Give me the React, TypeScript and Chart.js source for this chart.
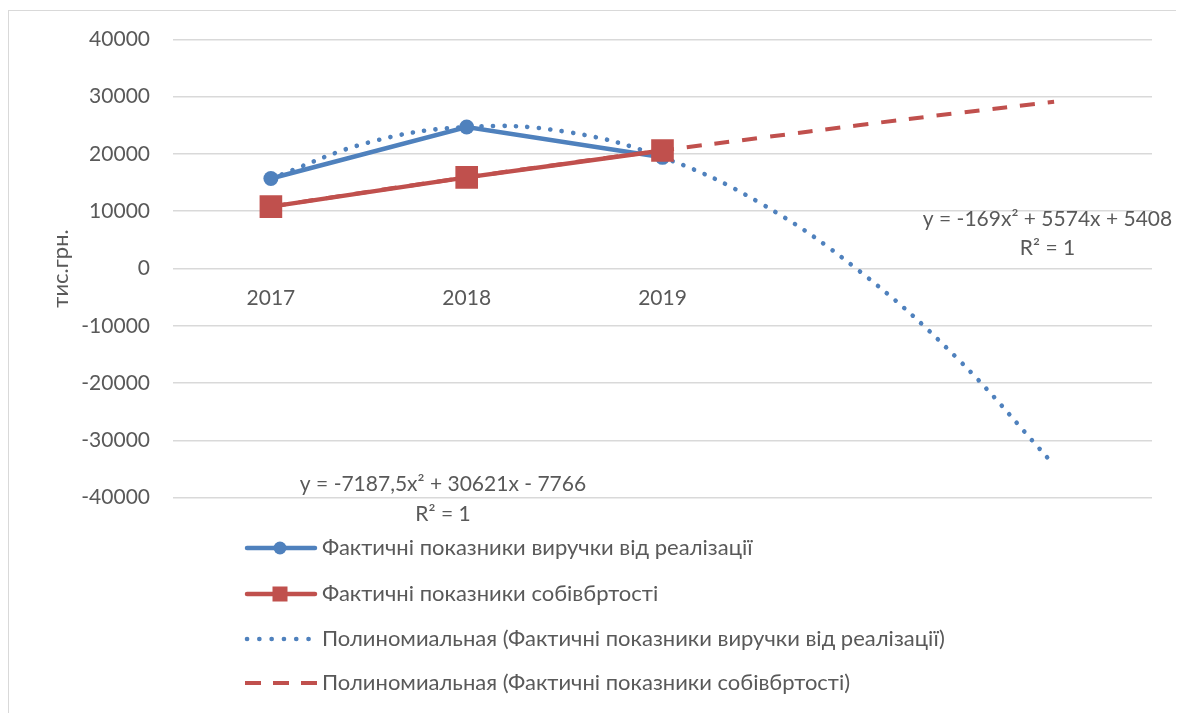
import React, { useEffect, useRef } from "react";
import { Chart, registerables } from "chart.js";

Chart.register(...registerables);

// ---- data ----
const categories = ["2017", "2018", "2019"];
const categoryX = [1, 2, 3];
const revenue = [15700, 24700, 19400];
const cost = [10800, 15900, 20600];
// polynomial trendlines at half-period steps (2 periods forecast)
const trendX = [1, 1.5, 2, 2.5, 3, 3.5, 4, 4.5, 5];
const revenueTrend = [15700, 22000, 24700, 23900, 19400, 11400, -300, -15500, -34300];
const costTrend = [10800, 13400, 15900, 18300, 20600, 22800, 25000, 27100, 29100];
const yMin = -40000;
const yMax = 40000;
const yStep = 10000;
const seriesNames = [
  "Фактичні показники виручки від реалізації",
  "Фактичні показники собівбртості",
  "Полиномиальная (Фактичні показники виручки від реалізації)",
  "Полиномиальная (Фактичні показники собівбртості)",
];
const revenueTrendLabel = ["y = -7187,5x² + 30621x - 7766", "R² = 1"];
const costTrendLabel = ["y = -169x² + 5574x + 5408", "R² = 1"];
const yTitle = "тис.грн.";

// ---- styles ----
const FONT = "Lato, 'Open Sans', sans-serif";
const TEXT = "#595959";
const GRID = "#d9d9d9";
const BLUE = "#4f81bd";
const RED = "#c0504d";
const FS = 21;
const LEG_FS = 22;

const overlay = {
  id: "overlay",
  afterDraw(chart: any) {
    const { ctx } = chart;
    const xs = chart.scales.x;
    const ys = chart.scales.y;
    ctx.save();
    ctx.font = `${FS}px ${FONT}`;
    ctx.fillStyle = TEXT;
    ctx.textAlign = "center";
    ctx.textBaseline = "middle";
    // category labels under the zero line
    const yl = ys.getPixelForValue(0) + 30;
    categories.forEach((c, i) => ctx.fillText(c, xs.getPixelForValue(categoryX[i]), yl));
    // trendline equations
    revenueTrendLabel.forEach((t, i) => ctx.fillText(t, 434, 473.5 + i * 29.5));
    costTrendLabel.forEach((t, i) => ctx.fillText(t, 1038.5, 208.5 + i * 29));

    // legend
    const rows = [537, 583, 628, 672];
    const x0 = 236;
    const x1 = 308;
    const mx = 271;
    ctx.textAlign = "left";
    rows.forEach((ry, i) => {
      ctx.save();
      ctx.beginPath();
      if (i === 0 || i === 1) {
        ctx.strokeStyle = i === 0 ? BLUE : RED;
        ctx.lineWidth = 4.5;
        ctx.lineCap = "round";
        ctx.moveTo(x0 + 2, ry);
        ctx.lineTo(x1 - 2, ry);
        ctx.stroke();
        ctx.fillStyle = i === 0 ? BLUE : RED;
        if (i === 0) {
          ctx.beginPath();
          ctx.arc(mx, ry, 6.5, 0, Math.PI * 2);
          ctx.fill();
        } else {
          ctx.fillRect(mx - 7.5, ry - 7.5, 15, 15);
        }
      } else if (i === 2) {
        ctx.strokeStyle = BLUE;
        ctx.lineWidth = 4.6;
        ctx.lineCap = "round";
        ctx.setLineDash([0.1, 12.2]);
        ctx.moveTo(238, ry);
        ctx.lineTo(301, ry);
        ctx.stroke();
      } else {
        ctx.strokeStyle = RED;
        ctx.lineWidth = 4;
        ctx.lineCap = "butt";
        ctx.setLineDash([16, 12]);
        ctx.moveTo(x0, ry);
        ctx.lineTo(x1, ry);
        ctx.stroke();
      }
      ctx.restore();
      ctx.fillStyle = TEXT;
      ctx.font = `${LEG_FS}px ${FONT}`;
      ctx.fillText(seriesNames[i], 313, ry);
    });
    ctx.restore();
  },
};

export default function App() {
  const ref = useRef<HTMLCanvasElement | null>(null);
  useEffect(() => {
    if (!ref.current) return;
    const pts = (xs: number[], vs: number[]) => vs.map((v, i) => ({ x: xs[i], y: v }));
    const chart = new Chart(ref.current, {
      type: "line",
      data: {
        datasets: [
          {
            label: seriesNames[0],
            data: pts(categoryX, revenue),
            borderColor: BLUE,
            backgroundColor: BLUE,
            borderWidth: 4.5,
            pointStyle: "circle",
            pointRadius: 7.5,
            pointBorderWidth: 0,
            pointBackgroundColor: BLUE,
            tension: 0,
            order: 1,
          },
          {
            label: seriesNames[1],
            data: pts(categoryX, cost),
            borderColor: RED,
            backgroundColor: RED,
            borderWidth: 4.5,
            pointStyle: "rect",
            pointRadius: 16,
            pointBorderWidth: 0,
            pointBackgroundColor: RED,
            tension: 0,
            order: 0,
          },
          {
            label: seriesNames[2],
            data: pts(trendX, revenueTrend),
            borderColor: BLUE,
            borderWidth: 4.6,
            borderDash: [0.1, 11.4],
            borderCapStyle: "round",
            pointRadius: 0,
            tension: 0.4,
            order: 2,
          },
          {
            label: seriesNames[3],
            data: pts(trendX, costTrend),
            borderColor: RED,
            borderWidth: 4,
            borderDash: [15, 13],
            borderCapStyle: "butt",
            pointRadius: 0,
            tension: 0.4,
            order: 3,
          },
        ],
      },
      options: {
        animation: false,
        responsive: false,
        layout: { padding: { left: 0, top: 28.3, right: 27, bottom: 215.3 } },
        plugins: { legend: { display: false }, tooltip: { enabled: false } },
        scales: {
          x: { type: "linear", min: 0.5, max: 5.5, display: false },
          y: {
            min: yMin,
            max: yMax,
            border: { display: false },
            grid: {
              color: GRID,
              lineWidth: 1.5,
              drawTicks: true,
              tickLength: 23,
              tickColor: "rgba(0,0,0,0)",
            },
            ticks: {
              stepSize: yStep,
              padding: 0,
              color: TEXT,
              font: { family: FONT, size: FS },
              callback: (v: any) => String(v),
            },
            title: {
              display: true,
              text: yTitle,
              color: TEXT,
              font: { family: FONT, size: LEG_FS },
              padding: { top: 39, bottom: 0 },
            },
            afterFit: (s: any) => {
              s.width = 164;
            },
          },
        },
      },
      plugins: [overlay],
    });
    return () => chart.destroy();
  }, []);
  return (
    <>
      <style>{"body{overflow:hidden}"}</style>
      <div
        style={{
          marginTop: 2,
          width: 1172,
          height: 703,
          boxSizing: "border-box",
          borderTop: "1px solid #d9d9d9",
          borderLeft: "1px solid #d9d9d9",
          borderRight: "1px solid #d9d9d9",
          background: "#fff",
        }}
      >
        <canvas ref={ref} width={1170} height={702} style={{ display: "block" }} />
      </div>
    </>
  );
}
